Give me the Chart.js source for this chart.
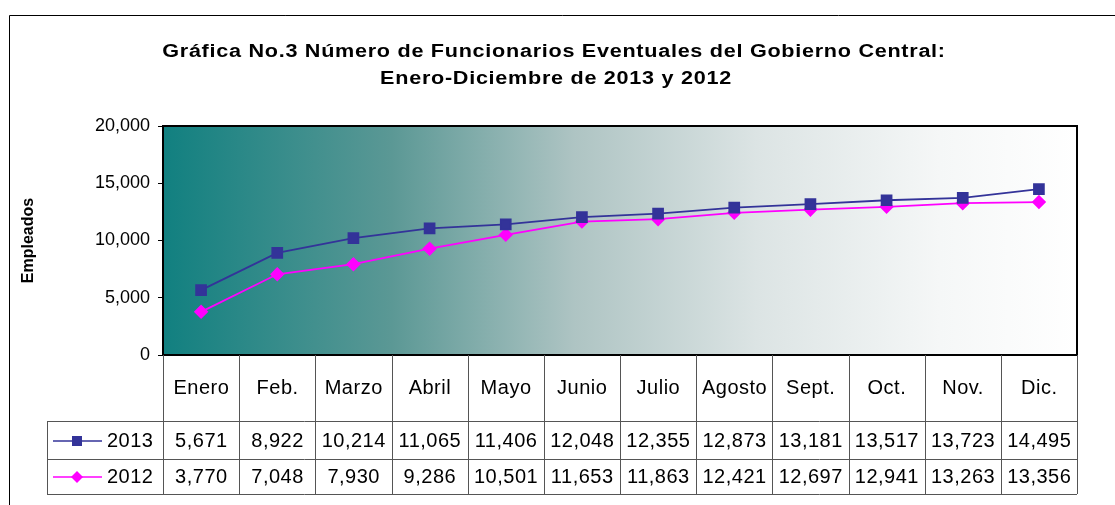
<!DOCTYPE html>
<html>
<head>
<meta charset="utf-8">
<script src="https://cdn.jsdelivr.net/npm/chart.js@4"></script>
<style>
  body { margin: 0; background: #fff; }
  #wrap { width: 1115px; height: 505px; }
</style>
</head>
<body>
<div id="wrap"><canvas id="chart" width="1115" height="505"></canvas></div>
<script>
const months = ['Enero', 'Feb.', 'Marzo', 'Abril', 'Mayo', 'Junio', 'Julio', 'Agosto', 'Sept.', 'Oct.', 'Nov.', 'Dic.'];
const values2013 = [5671, 8922, 10214, 11065, 11406, 12048, 12355, 12873, 13181, 13517, 13723, 14495];
const values2012 = [3770, 7048, 7930, 9286, 10501, 11653, 11863, 12421, 12697, 12941, 13263, 13356];
const yTicks = [0, 5000, 10000, 15000, 20000];
const titleLines = ['Gráfica No.3 Número de Funcionarios Eventuales del Gobierno Central:', 'Enero-Diciembre de 2013 y 2012'];

const fmt = v => v.toLocaleString('en-US');
const family = '"Liberation Sans", Arial, sans-serif';
const font = '20px ' + family;

// frame, title, plot background gradient and the data table under the plot
const decor = {
  id: 'decor',
  beforeDraw(chart) {
    const ctx = chart.ctx;
    const a = chart.chartArea;
    ctx.save();
    ctx.strokeStyle = '#000';
    ctx.lineWidth = 1;
    ctx.beginPath();
    ctx.moveTo(9.5, 505);
    ctx.lineTo(9.5, 15.5);
    ctx.lineTo(1115, 15.5);
    ctx.stroke();

    const g = ctx.createLinearGradient(a.left, 0, a.right, 0);
    g.addColorStop(0, '#118080');
    g.addColorStop(0.25, '#5b9895');
    g.addColorStop(0.45, '#aec4c3');
    g.addColorStop(0.65, '#dce4e4');
    g.addColorStop(0.85, '#f5f7f7');
    g.addColorStop(1, '#ffffff');
    ctx.fillStyle = g;
    ctx.fillRect(a.left, a.top, a.right - a.left, a.bottom - a.top);

    // title: wide bold text, stretched a little like the original
    ctx.letterSpacing = '0.6px';
    ctx.fillStyle = '#000';
    ctx.font = 'bold 18px ' + family;
    ctx.textAlign = 'center';
    ctx.textBaseline = 'middle';
    [[titleLines[0], 554, 52], [titleLines[1], 556, 79]].forEach(([t, cx, cy]) => {
      ctx.save();
      ctx.translate(cx, cy);
      ctx.scale(1.2, 1);
      ctx.fillText(t, 0, 0);
      ctx.restore();
    });
    ctx.letterSpacing = '0px';
    ctx.restore();
  },
  afterDatasetsDraw(chart) {
    const ctx = chart.ctx;
    const a = chart.chartArea;
    const x = chart.scales.x;
    const step = (a.right - a.left) / months.length;
    const rowTop = [a.bottom, 421, 459, 494];
    const rowText = [388, 441, 477];
    const legendLeft = 47;

    ctx.save();
    ctx.strokeStyle = '#000';
    ctx.lineWidth = 2;
    ctx.strokeRect(a.left, a.top, a.right - a.left, a.bottom - a.top);

    ctx.strokeStyle = '#555';
    ctx.lineWidth = 1;
    ctx.beginPath();
    for (let i = 0; i <= months.length; i++) {
      const px = Math.round(a.left + i * step) + 0.5;
      ctx.moveTo(px, a.bottom);
      ctx.lineTo(px, rowTop[3]);
    }
    for (let r = 1; r < 4; r++) {
      ctx.moveTo(legendLeft, rowTop[r] + 0.5);
      ctx.lineTo(a.right, rowTop[r] + 0.5);
    }
    ctx.moveTo(legendLeft + 0.5, rowTop[1]);
    ctx.lineTo(legendLeft + 0.5, rowTop[3]);
    ctx.stroke();

    ctx.letterSpacing = '0.5px';
    ctx.fillStyle = '#000';
    ctx.font = font;
    ctx.textAlign = 'center';
    ctx.textBaseline = 'middle';
    months.forEach((m, i) => {
      const cx = x.getPixelForValue(i) + 0.3;
      ctx.fillText(m, cx, rowText[0]);
      ctx.fillText(fmt(values2013[i]), cx, rowText[1]);
      ctx.fillText(fmt(values2012[i]), cx, rowText[2]);
    });

    // legend keys in the table
    chart.data.datasets.forEach((ds, k) => {
      const cy = rowText[k + 1];
      ctx.strokeStyle = ds.borderColor;
      ctx.lineWidth = 1.5;
      ctx.beginPath();
      ctx.moveTo(53, cy);
      ctx.lineTo(102, cy);
      ctx.stroke();
      ctx.fillStyle = ds.backgroundColor;
      if (ds.pointStyle === 'rect') {
        ctx.fillRect(72, cy - 5, 10, 10);
      } else {
        ctx.beginPath();
        ctx.moveTo(77, cy - 6);
        ctx.lineTo(83, cy);
        ctx.lineTo(77, cy + 6);
        ctx.lineTo(71, cy);
        ctx.closePath();
        ctx.fill();
      }
      ctx.fillStyle = '#000';
      ctx.textAlign = 'left';
      ctx.fillText(ds.label, 107, cy);
    });
    ctx.letterSpacing = '0px';
    ctx.restore();
  }
};

new Chart(document.getElementById('chart'), {
  type: 'line',
  data: {
    labels: months,
    datasets: [
      {
        label: '2013',
        data: values2013,
        borderColor: '#333399',
        backgroundColor: '#333399',
        borderWidth: 1.8,
        pointStyle: 'rect',
        pointRadius: 7,
        pointHoverRadius: 7,
        tension: 0
      },
      {
        label: '2012',
        data: values2012,
        borderColor: '#ff00ff',
        backgroundColor: '#ff00ff',
        borderWidth: 1.8,
        pointStyle: 'rectRot',
        pointRadius: 6,
        pointHoverRadius: 6,
        tension: 0
      }
    ]
  },
  options: {
    responsive: false,
    animation: false,
    events: [],
    layout: { padding: { left: 19, right: 38, top: 126, bottom: 150 } },
    plugins: {
      legend: { display: false },
      tooltip: { enabled: false },
      title: { display: false }
    },
    scales: {
      x: {
        type: 'category',
        offset: true,
        display: false
      },
      y: {
        min: 0,
        max: 20000,
        afterBuildTicks(scale) {
          scale.ticks = yTicks.map(v => ({ value: v }));
        },
        afterFit(scale) {
          scale.width = 144;
        },
        border: { display: false },
        grid: {
          drawOnChartArea: false,
          drawTicks: true,
          tickLength: 5,
          color: '#000'
        },
        ticks: {
          color: '#000',
          padding: 8,
          font: { family: family, size: 18 },
          callback: v => fmt(v)
        },
        title: {
          display: true,
          text: 'Empleados',
          color: '#000',
          padding: { top: 0, bottom: 0 },
          font: { family: family, size: 16, weight: 'bold' }
        }
      }
    }
  },
  plugins: [decor]
});
</script>
</body>
</html>
